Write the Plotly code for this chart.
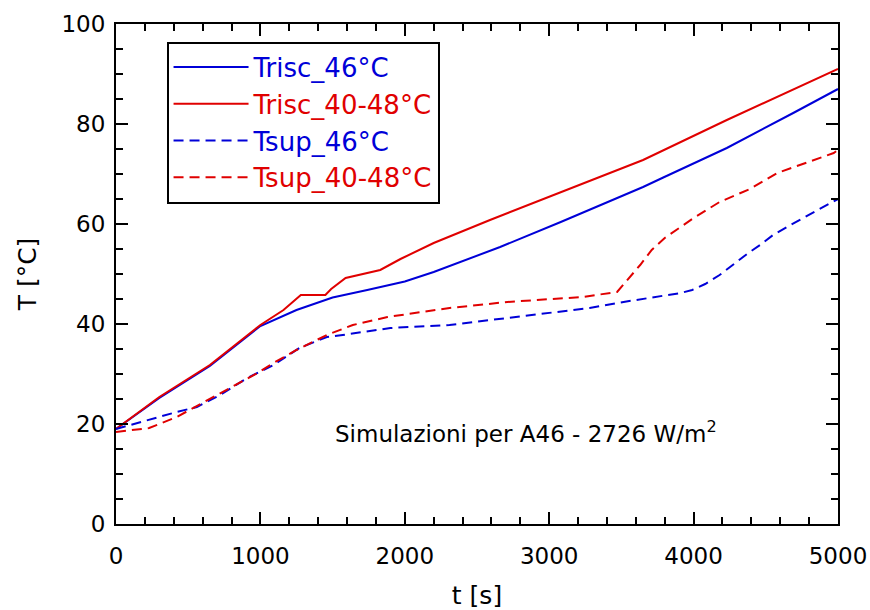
import plotly.graph_objects as go

# Time axis samples [s] and temperatures [°C] for each simulated series
t_risc_46 = [0, 300, 650, 1000, 1250, 1500, 1740, 2000, 2200, 2660, 3080, 3210, 3650, 3790, 4230, 4690, 5000]
T_risc_46 = [19.0, 25.2, 31.6, 39.6, 42.8, 45.3, 46.8, 48.5, 50.4, 55.4, 60.4, 62.0, 67.4, 69.3, 75.2, 82.2, 87.0]

t_risc_4048 = [0, 300, 650, 1000, 1160, 1280, 1450, 1490, 1590, 1830, 1970, 2200, 2590, 3080, 3650, 4230, 5000]
T_risc_4048 = [19.0, 25.4, 31.8, 39.8, 42.8, 45.8, 45.8, 47.0, 49.2, 50.8, 53.0, 56.2, 60.8, 66.4, 72.8, 80.8, 91.0]

t_sup_46 = [0, 50, 210, 420, 560, 720, 910, 1090, 1270, 1460, 1570, 1900, 2310, 2890, 3280, 3470, 3680, 3910, 3990, 4080,
            4180, 4270, 4370, 4460, 4550, 4670, 4760, 4860, 4960, 5000]
T_sup_46 = [19.0, 19.4, 20.8, 22.4, 23.4, 25.8, 29.2, 31.8, 35.2, 37.4, 37.8, 39.2, 39.8, 41.8, 43.2, 44.2, 45.2, 46.2, 46.8, 48.0,
            49.8, 51.8, 54.0, 55.8, 57.8, 59.8, 61.2, 62.8, 64.4, 65.0]

t_sup_4048 = [0, 230, 420, 600, 810, 980, 1090, 1250, 1460, 1640, 1880, 2310, 2710, 3230, 3470, 3560, 3630, 3710, 3800,
              3910, 4000, 4180, 4390, 4580, 4970, 5000]
T_sup_4048 = [18.4, 19.2, 21.4, 24.2, 27.4, 30.2, 32.2, 34.8, 37.8, 39.8, 41.4, 43.2, 44.4, 45.4, 46.4, 49.4, 51.8, 54.8, 57.2,
              59.4, 61.2, 64.4, 67.0, 70.2, 74.2, 74.8]

BLUE = "#0000d8"
RED = "#e00000"
FONT = "DejaVu Sans"

series = [
    ("Trisc_46°C", t_risc_46, T_risc_46, BLUE, "solid"),
    ("Trisc_40-48°C", t_risc_4048, T_risc_4048, RED, "solid"),
    ("Tsup_46°C", t_sup_46, T_sup_46, BLUE, "10px,6px"),
    ("Tsup_40-48°C", t_sup_4048, T_sup_4048, RED, "10px,6px"),
]

fig = go.Figure()
for name, xs, ys, color, dash in series:
    fig.add_trace(go.Scatter(
        x=xs, y=ys, mode="lines",
        name=f"<span style='color:{color}'>{name}</span>",
        line=dict(color=color, width=2, dash=dash),
    ))

axis_common = dict(
    showgrid=False, zeroline=False, automargin=False,
    showline=True, linecolor="black", linewidth=2, mirror="allticks",
    ticks="inside", ticklen=12, tickwidth=2, tickcolor="black",
    ticklabeloverflow="allow",
    tickfont=dict(family=FONT, size=23, color="black"),
)

fig.update_xaxes(
    range=[0, 5000], tick0=0, dtick=1000,
    minor=dict(ticks="inside", ticklen=7, tickwidth=1.5, tickcolor="black", dtick=200, tick0=0),
    ticklabelstandoff=10,
    title=dict(text="t [s]", font=dict(family=FONT, size=25, color="black"), standoff=22),
    **axis_common,
)
fig.update_yaxes(
    range=[0, 100], tick0=0, dtick=20,
    minor=dict(ticks="inside", ticklen=7, tickwidth=1.5, tickcolor="black", dtick=5, tick0=0),
    ticklabelstandoff=4,
    title=dict(text="T [°C]", font=dict(family=FONT, size=25, color="black"), standoff=18),
    **axis_common,
)

fig.add_annotation(
    x=2840, y=18.4, xref="x", yref="y",
    text="Simulazioni per A46 - 2726 W/m<sup>2</sup>",
    showarrow=False, font=dict(family=FONT, size=23, color="black"),
)

fig.update_layout(
    width=870, height=610,
    margin=dict(l=116, r=32, t=24, b=86),
    paper_bgcolor="white", plot_bgcolor="white",
    showlegend=True,
    legend=dict(
        x=0.07, y=0.965, xanchor="left", yanchor="top",
        bgcolor="white", bordercolor="black", borderwidth=2,
        font=dict(family=FONT, size=26),
        itemwidth=75, tracegroupgap=0,
    ),
)

fig.write_html("out.html")
